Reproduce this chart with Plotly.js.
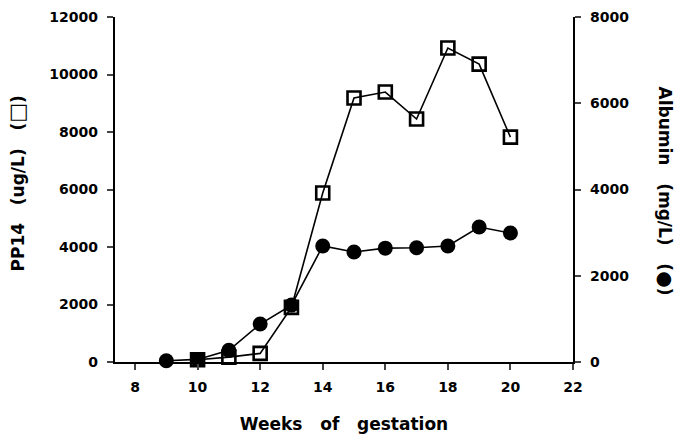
<!DOCTYPE html>
<html>
<head>
<meta charset="utf-8">
<script src="https://cdn.plot.ly/plotly-3.0.1.min.js"></script>
<style>html,body{margin:0;padding:0;background:#fff}#chart{width:679px;height:441px}</style>
</head>
<body>
<div id="chart"></div>
<script>
const weeksPP14 = [10, 11, 12, 13, 14, 15, 16, 17, 18, 19, 20];
const pp14 = [80, 170, 300, 1900, 5880, 9180, 9390, 8450, 10920, 10360, 7820];
const weeksAlb = [9, 10, 11, 12, 13, 14, 15, 16, 17, 18, 19, 20];
const albumin = [30, 60, 270, 880, 1320, 2690, 2550, 2640, 2650, 2690, 3130, 2990];
const xTicks = [8, 10, 12, 14, 16, 18, 20, 22];
const yLeftTicks = [0, 2000, 4000, 6000, 8000, 10000, 12000];
const yLeftLabels = ['0', '2000', '4000', '6000', '8000', '10000', '12000'];
const yRightTicks = [0, 2000, 4000, 6000, 8000];
const yRightLabels = ['0', '2000', '4000', '6000', '8000'];

const FAM = 'DejaVu Sans, Liberation Sans, Arial, sans-serif';
const tickFont = {family: FAM, size: 14, color: '#000', weight: 'bold'};
const titleFont = {family: FAM, size: 17, color: '#000', weight: 'bold'};

const traces = [
  {x: weeksAlb, y: albumin, yaxis: 'y2', mode: 'lines+markers', cliponaxis: false,
   line: {color: '#000', width: 1.6},
   marker: {symbol: 'circle', size: 15, color: '#000'}},
  {x: weeksPP14, y: pp14, mode: 'lines+markers', cliponaxis: false,
   line: {color: '#000', width: 1.6},
   marker: {symbol: 'square-open', size: 13, color: '#000', line: {width: 2.6, color: '#000'}}}
];

const layout = {
  width: 679, height: 441,
  margin: {l: 115, r: 106, t: 17, b: 79},
  paper_bgcolor: '#fff', plot_bgcolor: '#fff',
  showlegend: false,
  font: tickFont,
  xaxis: {range: [7.36, 22], tickvals: xTicks, ticks: 'outside', ticklen: 6, tickwidth: 2,
          ticklabelstandoff: 5,
          showline: true, linewidth: 2.2, linecolor: '#000', showgrid: false, zeroline: false,
          tickfont: tickFont,
          title: {text: 'Weeks   of   gestation', font: titleFont, standoff: 24}},
  yaxis: {range: [0, 12000], tickvals: yLeftTicks, ticktext: yLeftLabels, ticks: 'outside', ticklen: 6, tickwidth: 2,
          ticklabelstandoff: 6,
          showline: true, linewidth: 2.2, linecolor: '#000', showgrid: false, zeroline: false,
          tickfont: tickFont},
  yaxis2: {range: [0, 8000], tickvals: yRightTicks, ticktext: yRightLabels, overlaying: 'y', side: 'right', anchor: 'x',
           ticks: 'outside', ticklen: 6, tickwidth: 2, ticklabelstandoff: 6,
           showline: true, linewidth: 2.2, linecolor: '#000', showgrid: false, zeroline: false,
           tickfont: tickFont},
  annotations: [{
    text: 'PP14   (ug/L)   (<span style="font-size:21px">□</span>)', textangle: -90, xref: 'paper', yref: 'paper',
    x: 0, xanchor: 'center', yanchor: 'middle', xshift: -99, y: 0.5, yshift: 6, showarrow: false,
    font: titleFont
  }, {
    text: 'Albumin   (mg/L)   (<span style="font-size:19px">●</span>)', textangle: 90, xref: 'paper', yref: 'paper',
    x: 1.0, xanchor: 'center', yanchor: 'middle', xshift: 93, y: 0.5, yshift: -1, showarrow: false,
    font: titleFont
  }]
};

Plotly.newPlot('chart', traces, layout, {staticPlot: true, displayModeBar: false});
</script>
</body>
</html>
